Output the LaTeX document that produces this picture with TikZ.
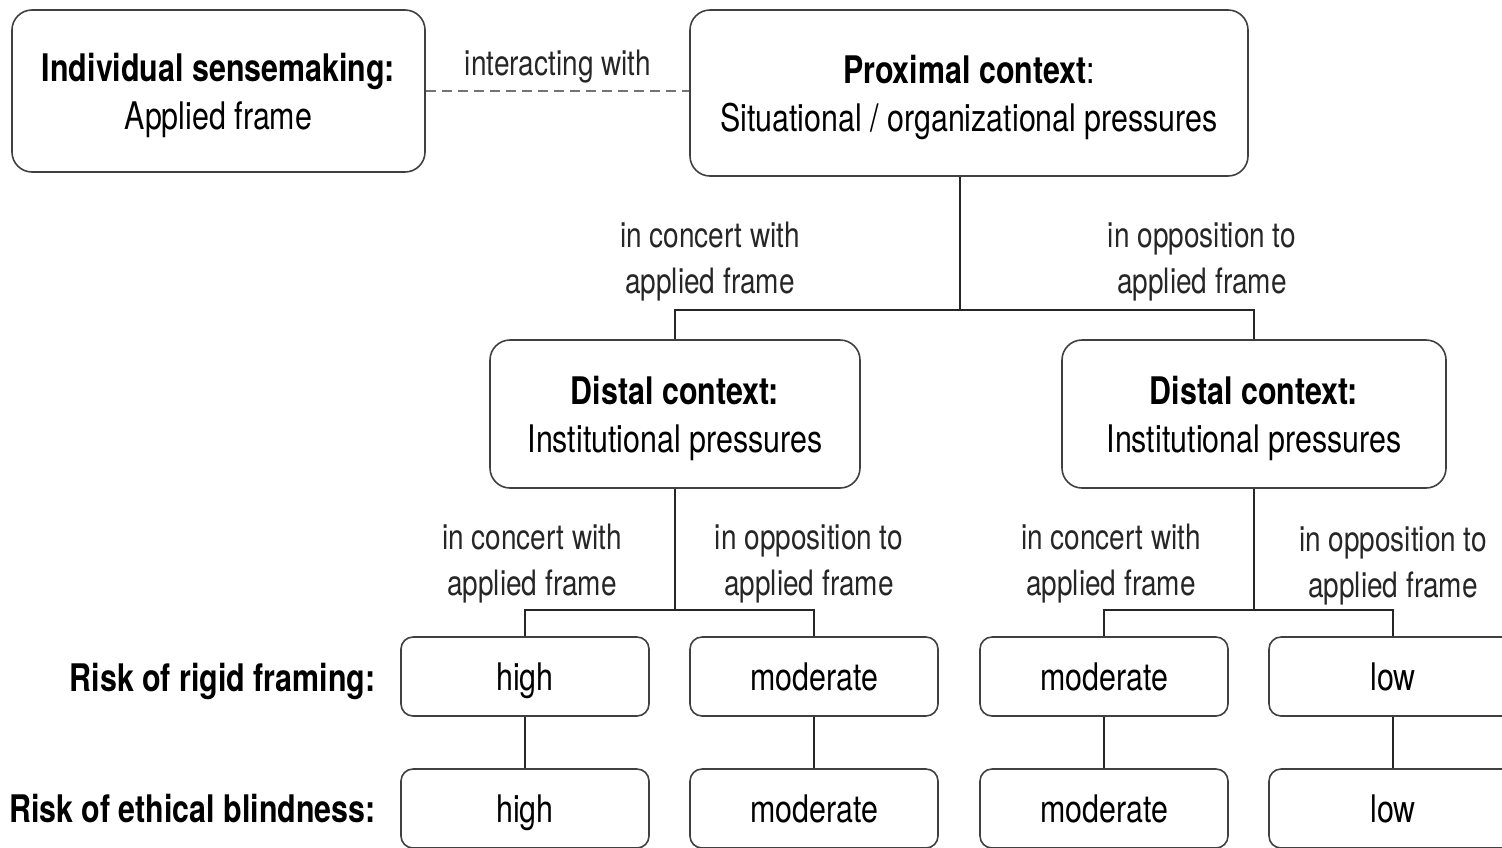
\documentclass[tikz,border=0pt]{standalone}
\usepackage{fontspec}
\setmainfont{TeX Gyre Heros}[FakeStretch=0.8]
\begin{document}
\begin{tikzpicture}[x=0.5pt,y=-0.5pt,
    bigbox/.style={draw=black!75,line width=0.8pt,rounded corners=10pt,align=center,inner sep=0pt,text depth=0pt,font=\fontsize{19}{24}\selectfont},
    riskbox/.style={draw=black!75,line width=0.8pt,rounded corners=6pt,minimum width=124pt,minimum height=39.5pt,inner sep=0pt,text height=13.7pt,text depth=0pt,font=\fontsize{19}{24}\selectfont},
    lbl/.style={align=center,text depth=0pt,text=black!85,font=\fontsize{17.5}{23}\selectfont},
    rowlbl/.style={anchor=east,inner sep=0pt,text depth=0pt,font=\bfseries\fontsize{19}{24}\selectfont},
    link/.style={draw=black!85,line width=1pt}]
  \clip (0,0) rectangle (1502,847);

  % top row
  \node[bigbox,minimum width=206.5pt,minimum height=81pt] (ind) at (218.5,91)
    {\textbf{Individual sensemaking:}\\Applied frame};
  \node[bigbox,minimum width=279pt,minimum height=83pt] (prox) at (969,93)
    {\textbf{Proximal context}:\\Situational / organizational pressures};
  \draw[black!55,line width=1pt,dash pattern=on 5pt off 3pt] (ind.east) -- (ind.east -| prox.west);
  \node[lbl] (inter) at (558,63) {interacting with};

  % distal contexts
  \node[bigbox,minimum width=185pt,minimum height=74pt] (dl) at (675,414)
    {\textbf{Distal context:}\\Institutional pressures};
  \node[bigbox,minimum width=192pt,minimum height=74pt] (dr) at (1254,414)
    {\textbf{Distal context:}\\Institutional pressures};
  \coordinate (j0) at (960,310);
  \draw[link] (prox.south -| j0) -- (j0);
  \draw[link] (dl.north) |- (j0) -| (dr.north);
  \node[lbl] (c0) at (710,258) {in concert with\\applied frame};
  \node[lbl] (o0) at (1202,258) {in opposition to\\applied frame};

  % risk of rigid framing
  \node[riskbox] (ra) at (525,676.5) {high};
  \node[riskbox] (rb) at (814,676.5) {moderate};
  \node[riskbox] (rc) at (1104,676.5) {moderate};
  \node[riskbox] (rd) at (1393,676.5) {low};

  % risk of ethical blindness
  \node[riskbox] (ba) at (525,808.5) {high};
  \node[riskbox] (bb) at (814,808.5) {moderate};
  \node[riskbox] (bc) at (1104,808.5) {moderate};
  \node[riskbox] (bd) at (1393,808.5) {low};

  \coordinate (j1) at (675,610);
  \coordinate (j2) at (1254,610);
  \draw[link] (dl.south) -- (j1);
  \draw[link] (ra.north) |- (j1) -| (rb.north);
  \draw[link] (dr.south) -- (j2);
  \draw[link] (rc.north) |- (j2) -| (rd.north);
  \node[lbl] (c1) at (532,560) {in concert with\\applied frame};
  \node[lbl] (o1) at (809,560) {in opposition to\\applied frame};
  \node[lbl] (c2) at (1111,560) {in concert with\\applied frame};
  \node[lbl] (o2) at (1393,562) {in opposition to\\applied frame};

  \foreach \a/\b in {ra/ba,rb/bb,rc/bc,rd/bd}
    \draw[link] (\a.south) -- (\b.north);

  % row labels
  \node[rowlbl] (rigid) at (376,677) {Risk of rigid framing:};
  \node[rowlbl] (blind) at (376,808) {Risk of ethical blindness:};
\end{tikzpicture}
\end{document}
